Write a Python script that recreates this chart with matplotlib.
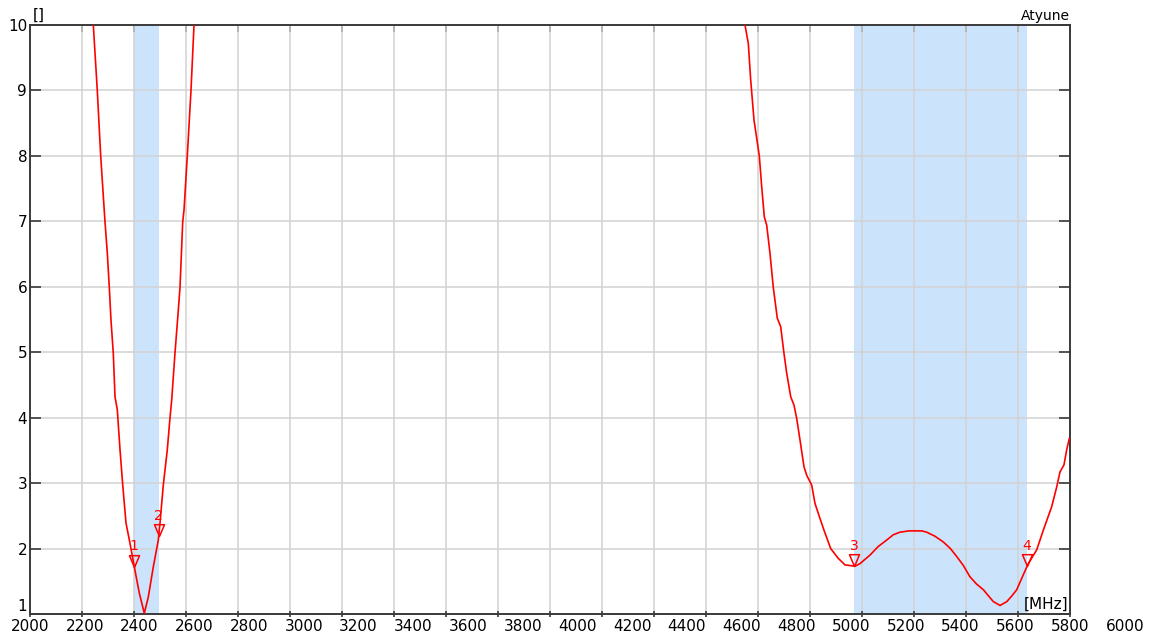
import matplotlib
matplotlib.use("Agg")
import matplotlib.pyplot as plt
from matplotlib.path import Path
import numpy as np

# VSWR trace, 2.4 GHz dip (values above 10 are off the chart)
freq_lo = [2243.5, 2258.8, 2271.9, 2279.6, 2288.5, 2297.3, 2305.0, 2311.5, 2320.4,
           2326.9, 2335.8, 2346.2, 2356.5, 2369.2, 2384.6, 2401.2, 2420.4, 2439.6,
           2455.0, 2474.2, 2493.5, 2500.0, 2512.7, 2528.1, 2538.5, 2545.0, 2557.7,
           2570.4, 2576.9, 2587.3, 2592.3, 2605.0, 2619.2, 2630.8]
vswr_lo = [10.0, 9.0, 8.0, 7.53, 6.99, 6.52, 5.99, 5.49, 4.98,
           4.32, 4.12, 3.51, 2.98, 2.39, 2.08, 1.72, 1.32, 1.01,
           1.26, 1.72, 2.13, 2.39, 2.97, 3.51, 4.0, 4.27, 4.99,
           5.64, 5.99, 6.99, 7.17, 8.0, 9.0, 10.0]

# VSWR trace, 5 GHz region
freq_hi = [4750.0, 4762.7, 4771.9, 4784.6, 4805.0, 4814.2, 4824.2, 4833.5, 4846.2,
           4858.8, 4874.2, 4887.3, 4900.0, 4910.4, 4925.8, 4938.5, 4948.8, 4961.5,
           4976.9, 4987.3, 5006.5, 5019.2, 5035.8, 5053.8, 5079.6, 5108.8, 5134.6,
           5173.1, 5192.3, 5230.8, 5262.0, 5295.0, 5320.0, 5346.0, 5380.0, 5410.0,
           5430.0, 5449.0, 5480.0, 5513.0, 5540.0, 5564.0, 5590.0, 5615.0, 5640.0,
           5667.0, 5690.0, 5705.0, 5731.0, 5757.0, 5775.0, 5795.0, 5820.4, 5839.6,
           5871.9, 5897.3, 5929.6, 5948.8, 5961.5, 5976.9, 5987.3, 5997.3]
vswr_hi = [10.0, 9.72, 9.16, 8.55, 8.0, 7.53, 7.07, 6.94, 6.51,
           5.99, 5.52, 5.39, 4.98, 4.68, 4.32, 4.19, 3.99, 3.66,
           3.25, 3.12, 2.97, 2.69, 2.49, 2.28, 2.0, 1.85, 1.75,
           1.73, 1.77, 1.90, 2.03, 2.13, 2.21, 2.25, 2.27, 2.27,
           2.27, 2.25, 2.19, 2.10, 2.00, 1.88, 1.74, 1.57, 1.46,
           1.37, 1.26, 1.19, 1.13, 1.19, 1.27, 1.37, 1.60, 1.77,
           1.98, 2.28, 2.64, 2.94, 3.17, 3.28, 3.51, 3.68]

bands = [(2400, 2495), (5170, 5835)]
marker_freqs = [2401, 2495, 5170, 5835]
marker_names = ["1", "2", "3", "4"]

xtick_labels = [2000, 2200, 2400, 2600, 2800, 3000, 3200, 3400, 3600, 3800, 4000,
                4200, 4400, 4600, 4800, 5000, 5200, 5400, 5600, 5800, 6000]
label_span = (2000, 5800)   # the label row is laid out on this span
yticks = [1, 2, 3, 4, 5, 6, 7, 8, 9, 10]

red = "#ff0000"
dark = "#3a3a3a"

fig = plt.figure(figsize=(11.51, 6.38), dpi=100)
ax = fig.add_axes([30 / 1151, 1 - 614 / 638, 1040 / 1151, 589 / 638])

for a, b in bands:
    ax.axvspan(a, b, color="#cce4fb", zorder=0, lw=0)

ax.plot(freq_lo, vswr_lo, color=red, lw=1.2, zorder=3)
ax.plot(freq_hi, vswr_hi, color=red, lw=1.2, zorder=3)

# markers: downward triangle with the tip on the trace
tri = Path([(-0.85, 2.0), (0.85, 2.0), (0.0, 0.0), (-0.85, 2.0)],
           [Path.MOVETO, Path.LINETO, Path.LINETO, Path.CLOSEPOLY])
all_f = freq_lo + freq_hi
all_v = vswr_lo + vswr_hi
for f, name in zip(marker_freqs, marker_names):
    v = np.interp(f, all_f, all_v)
    ax.plot([f], [v], marker=tri, ms=17, mfc="none", mec=red, mew=1.1,
            ls="none", zorder=4, clip_on=False)
    ax.annotate(name, (f, v), xytext=(0, 14.5), textcoords="offset points",
                ha="center", va="center", color=red, fontsize=10)

ax.set_xlim(2000, 6000)
ax.set_ylim(1, 10)
ax.set_xticks(np.arange(2000, 6001, 200))
ax.set_xticklabels([])
ax.set_yticks(yticks)
ax.set_yticklabels([str(t) for t in yticks], fontsize=11)
# lowest y label sits just above the x axis
ax.get_yticklabels()[0].set_verticalalignment("bottom")
ax.grid(True, color="#d2d2d2", lw=1.1, zorder=1)
ax.set_axisbelow(True)

ax.tick_params(axis="x", direction="inout", length=4, width=1.2, color=dark)
ax.tick_params(axis="y", direction="in", length=8, width=1.2, color=dark,
               left=True, right=True, pad=2)
top = ax.secondary_xaxis("top")
top.set_xticks(np.arange(2000, 6001, 200))
top.set_xticklabels([])
top.tick_params(direction="in", length=5, width=1.2, color=dark)
top.spines["top"].set_visible(False)

for s in ax.spines.values():
    s.set_color(dark)
    s.set_linewidth(1.4)

# x labels row
for v in xtick_labels:
    xf = (v - label_span[0]) / (label_span[1] - label_span[0])
    ax.text(xf, -0.009, str(v), transform=ax.transAxes, ha="center", va="top",
            fontsize=11, clip_on=False)

ax.text(0.003, 1.003, "[]", transform=ax.transAxes, ha="left", va="bottom",
        fontsize=11)
ax.text(1.0, 1.003, "Atyune", transform=ax.transAxes, ha="right", va="bottom",
        fontsize=10)
ax.text(0.998, 0.004, "[MHz]", transform=ax.transAxes, ha="right", va="bottom",
        fontsize=11, zorder=5)

fig.savefig("out.png", dpi=100)
